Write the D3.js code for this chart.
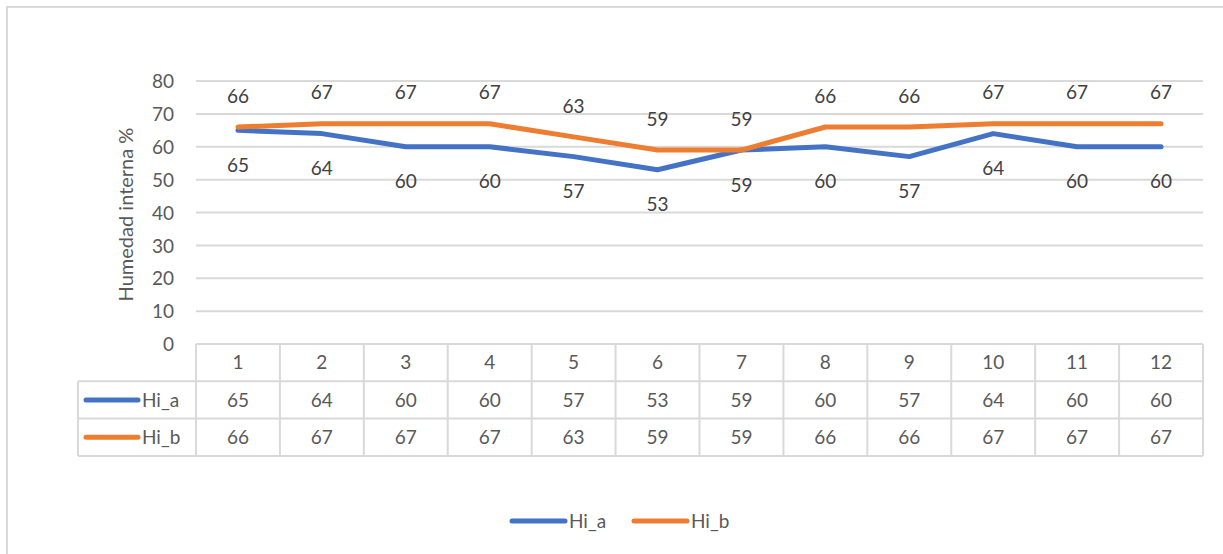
<!DOCTYPE html>
<html>
<head>
<meta charset="utf-8">
<script src="https://cdn.jsdelivr.net/npm/d3@7"></script>
<style>
  html, body { margin: 0; padding: 0; background: #fff; }
  svg text { font-family: Lato, "Open Sans", sans-serif; fill: #595959; }
</style>
</head>
<body>
<svg id="chart" width="1223" height="554"></svg>
<script>
// Humidity readings per sample
const categories = [1, 2, 3, 4, 5, 6, 7, 8, 9, 10, 11, 12];
const hiA = [65, 64, 60, 60, 57, 53, 59, 60, 57, 64, 60, 60];
const hiB = [66, 67, 67, 67, 63, 59, 59, 66, 66, 67, 67, 67];
const seriesNames = ["Hi_a", "Hi_b"];
const seriesColors = ["#4472c4", "#ed7d31"];
const yTicks = [0, 10, 20, 30, 40, 50, 60, 70, 80];
const yTitle = "Humedad interna %";

const series = [
  { name: seriesNames[0], values: hiA, color: seriesColors[0], labelPos: "below" },
  { name: seriesNames[1], values: hiB, color: seriesColors[1], labelPos: "above" }
];

const svg = d3.select("#chart");
const gridColor = "#d9d9d9";
const fs = "19px";

// outer chart frame
svg.append("rect")
  .attr("x", 7).attr("y", 7).attr("width", 1240).attr("height", 580)
  .attr("fill", "none").attr("stroke", gridColor).attr("stroke-width", 2);

const plot = { left: 196, right: 1203, top: 81, bottom: 344 };

const x = d3.scaleBand().domain(categories).range([plot.left, plot.right]);
const y = d3.scaleLinear().domain([0, 80]).range([plot.bottom, plot.top]);

// horizontal gridlines
svg.append("g").selectAll("line").data(yTicks.filter(t => t > 0)).join("line")
  .attr("x1", plot.left).attr("x2", plot.right)
  .attr("y1", d => y(d)).attr("y2", d => y(d))
  .attr("stroke", gridColor).attr("stroke-width", 2);

// y axis tick labels
const yAxis = d3.axisLeft(y).tickValues(yTicks).tickSize(0).tickPadding(0);
const yg = svg.append("g").attr("transform", `translate(${plot.left - 22},0)`).call(yAxis);
yg.select(".domain").remove();
yg.selectAll("text")
  .style("font-size", fs).style("fill", "#595959")
  .attr("text-anchor", "end").attr("dy", "0.35em");

// y axis title
svg.append("text")
  .attr("transform", `translate(133, ${(plot.top + plot.bottom) / 2 + 2}) rotate(-90)`)
  .attr("text-anchor", "middle")
  .style("font-size", "20px")
  .text(yTitle);

// data table below the plot
const rowH = 37.3;
const tableLeft = 78;
const rows = [plot.bottom, plot.bottom + rowH, plot.bottom + 2 * rowH, plot.bottom + 3 * rowH];
const tbl = svg.append("g");
// header row top line (category area only)
tbl.append("line").attr("x1", plot.left).attr("x2", plot.right)
  .attr("y1", rows[0]).attr("y2", rows[0]).attr("stroke", gridColor).attr("stroke-width", 2);
// remaining horizontal lines span series-name column too
[rows[1], rows[2], rows[3]].forEach(ry => {
  tbl.append("line").attr("x1", tableLeft).attr("x2", plot.right)
    .attr("y1", ry).attr("y2", ry).attr("stroke", gridColor).attr("stroke-width", 2);
});
// vertical lines
const colEdges = categories.map(c => x(c)).concat([plot.right]);
colEdges.forEach(cx => {
  tbl.append("line").attr("x1", cx).attr("x2", cx)
    .attr("y1", rows[0]).attr("y2", rows[3]).attr("stroke", gridColor).attr("stroke-width", 2);
});
tbl.append("line").attr("x1", tableLeft).attr("x2", tableLeft)
  .attr("y1", rows[1]).attr("y2", rows[3]).attr("stroke", gridColor).attr("stroke-width", 2);

// category labels
tbl.selectAll("text.cat").data(categories).join("text")
  .attr("class", "cat")
  .attr("x", d => x(d) + x.bandwidth() / 2)
  .attr("y", (rows[0] + rows[1]) / 2)
  .attr("dy", "0.35em").attr("text-anchor", "middle")
  .style("font-size", fs)
  .text(d => d);

series.forEach((s, si) => {
  const rowMid = (rows[si + 1] + rows[si + 2]) / 2;
  tbl.append("line")
    .attr("x1", 86).attr("x2", 138).attr("y1", rowMid).attr("y2", rowMid)
    .attr("stroke", s.color).attr("stroke-width", 5).attr("stroke-linecap", "round");
  tbl.append("text").attr("x", 142).attr("y", rowMid).attr("dy", "0.35em")
    .style("font-size", fs).text(s.name);
  tbl.selectAll(null).data(s.values).join("text")
    .attr("x", (d, i) => x(categories[i]) + x.bandwidth() / 2)
    .attr("y", rowMid).attr("dy", "0.35em").attr("text-anchor", "middle")
    .style("font-size", fs)
    .text(d => d);
});

// series lines
const line = d3.line()
  .x((d, i) => x(categories[i]) + x.bandwidth() / 2)
  .y(d => y(d));

series.forEach(s => {
  svg.append("path")
    .datum(s.values)
    .attr("d", line)
    .attr("fill", "none")
    .attr("stroke", s.color)
    .attr("stroke-width", 5)
    .attr("stroke-linecap", "round")
    .attr("stroke-linejoin", "round");
});

// data labels
series.forEach(s => {
  svg.append("g").selectAll("text").data(s.values).join("text")
    .attr("x", (d, i) => x(categories[i]) + x.bandwidth() / 2)
    .attr("y", d => s.labelPos === "above" ? y(d) - 31 : y(d) + 35)
    .attr("dy", "0.35em").attr("text-anchor", "middle")
    .style("font-size", fs).style("fill", "#404040")
    .text(d => d);
});

// legend
const legend = svg.append("g");
const legendItems = [
  { name: seriesNames[0], color: seriesColors[0], x: 512 },
  { name: seriesNames[1], color: seriesColors[1], x: 634 }
];
legendItems.forEach(it => {
  legend.append("line")
    .attr("x1", it.x).attr("x2", it.x + 53).attr("y1", 521).attr("y2", 521)
    .attr("stroke", it.color).attr("stroke-width", 5).attr("stroke-linecap", "round");
  legend.append("text").attr("x", it.x + 57).attr("y", 521).attr("dy", "0.35em")
    .style("font-size", fs).text(it.name);
});
</script>
</body>
</html>
